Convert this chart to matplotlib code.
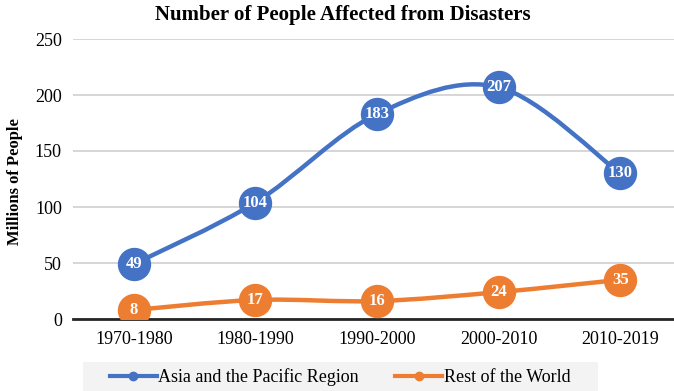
import matplotlib

matplotlib.use("Agg")
import matplotlib.pyplot as plt
from matplotlib.lines import Line2D
from matplotlib.path import Path
from matplotlib.patches import PathPatch, Rectangle

plt.rcParams["font.family"] = ["Liberation Serif", "DejaVu Serif"]

CATEGORIES = ["1970-1980", "1980-1990", "1990-2000", "2000-2010", "2010-2019"]
ASIA = [49, 104, 183, 207, 130]
REST = [8, 17, 16, 24, 35]
SERIES_NAMES = ["Asia and the Pacific Region", "Rest of the World"]
COLORS = ["#4472C4", "#ED7D31"]


def smooth_path(xs, ys):
    # Excel-style smoothed line: cubic Bezier segments through the points
    pts = list(zip(xs, ys))
    verts = [pts[0]]
    codes = [Path.MOVETO]
    n = len(pts)
    for i in range(n - 1):
        p0 = pts[i - 1] if i > 0 else pts[i]
        p1, p2 = pts[i], pts[i + 1]
        p3 = pts[i + 2] if i + 2 < n else pts[i + 1]
        c1 = (p1[0] + (p2[0] - p0[0]) / 6, p1[1] + (p2[1] - p0[1]) / 6)
        c2 = (p2[0] - (p3[0] - p1[0]) / 6, p2[1] - (p3[1] - p1[1]) / 6)
        verts += [c1, c2, p2]
        codes += [Path.CURVE4] * 3
    return Path(verts, codes)


fig = plt.figure(figsize=(6.74, 3.91), dpi=100)
ax = fig.add_axes([73 / 674, 72 / 391, 608 / 674, 280 / 391])

x = list(range(len(CATEGORIES)))
for vals, name, c in zip([ASIA, REST], SERIES_NAMES, COLORS):
    ax.add_patch(PathPatch(smooth_path(x, vals), facecolor="none",
                           edgecolor=c, lw=3.2, capstyle="round", zorder=3))
    ax.plot(x, vals, ls="none", marker="o", ms=23, color=c, zorder=4)
    for xi, v in zip(x, vals):
        ax.text(xi, v, str(v), ha="center", va="center", color="white",
                fontsize=12, fontweight="bold", zorder=5)

ax.set_xlim(-0.5, len(CATEGORIES) - 0.5)
ax.set_ylim(0, 250)
ax.set_yticks(range(0, 251, 50))
ax.set_xticks(x)
ax.set_xticklabels(CATEGORIES)
ax.tick_params(axis="both", length=0, labelsize=13)
ax.tick_params(axis="x", pad=9)
ax.tick_params(axis="y", pad=8)
ax.grid(axis="y", color="#d0d0d0", lw=1.2)
ax.set_axisbelow(True)
for side in ["left", "right", "top"]:
    ax.spines[side].set_visible(False)
ax.spines["bottom"].set_color("#262626")
ax.spines["bottom"].set_linewidth(2)
ax.spines["bottom"].set_zorder(2)

fig.text(343 / 674, 1 - 15 / 391, "Number of People Affected from Disasters",
         ha="center", va="center", fontsize=15, fontweight="bold")
fig.text(15 / 674, 1 - 182 / 391, "Millions of People", rotation=90,
         ha="center", va="center", fontsize=12, fontweight="bold")

# legend background band
fig.patches.append(Rectangle((83 / 674, 0), 515 / 674, 29 / 391,
                             transform=fig.transFigure, facecolor="#f3f3f3",
                             edgecolor="none", zorder=0))
handles = [Line2D([], [], color=c, lw=3, marker="o", ms=6) for c in COLORS]
fig.legend(handles, SERIES_NAMES, loc="center", bbox_to_anchor=(340 / 674, 1 - 377 / 391),
           ncol=2, frameon=False, fontsize=13, handlelength=2.6,
           handletextpad=0.1, columnspacing=2.0)

fig.savefig("out.png", dpi=100)
